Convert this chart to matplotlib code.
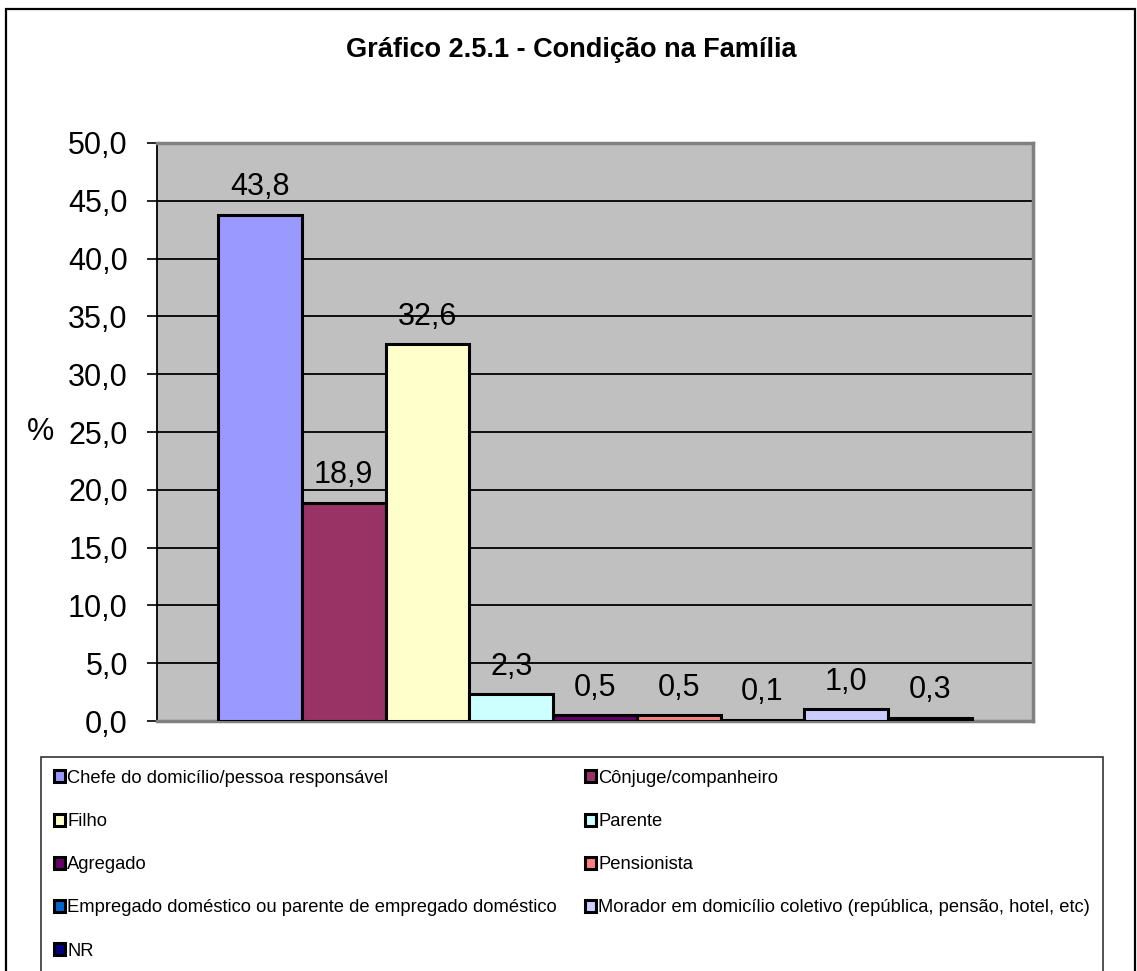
import matplotlib.pyplot as plt
from matplotlib.patches import Rectangle
import numpy as np

plt.rcParams['font.family'] = ['Liberation Sans', 'DejaVu Sans']

# categorias e valores (%)
categorias = ["Chefe do domicílio/pessoa responsável",
              "Cônjuge/companheiro",
              "Filho",
              "Parente",
              "Agregado",
              "Pensionista",
              "Empregado doméstico ou parente de empregado doméstico",
              "Morador em domicílio coletivo (república, pensão, hotel, etc)",
              "NR"]
valores = [43.8, 18.9, 32.6, 2.3, 0.5, 0.5, 0.1, 1.0, 0.3]
cores = ["#9999FF", "#993366", "#FFFFCC", "#CCFFFF", "#660066",
         "#FF8080", "#0066CC", "#CCCCFF", "#000080"]
yticks = [0, 5, 10, 15, 20, 25, 30, 35, 40, 45, 50]

W, H = 1137, 971
fig = plt.figure(figsize=(W / 100, H / 100), dpi=100)

# moldura externa
fig.patches.append(Rectangle((6 / W, -0.05), (1135 - 6) / W, 1.05 - 9 / H,
                             transform=fig.transFigure, fill=False,
                             edgecolor='black', linewidth=1.6))

ax = fig.add_axes([157 / W, 1 - 721 / H, (1033 - 157) / W, (721 - 143) / H])
ax.set_facecolor('#C0C0C0')

x = np.arange(len(valores))
barras = []
for i in range(len(valores)):
    b = ax.bar(x[i], valores[i], width=1.0, color=cores[i],
               edgecolor='black', linewidth=2.2, label=categorias[i], zorder=3)
    barras.append(b)
    ax.annotate(f"{valores[i]:.1f}".replace('.', ','), (x[i], valores[i]),
                xytext=(0, 14), textcoords='offset points',
                ha='center', va='baseline', fontsize=22, zorder=4)

ax.set_xlim(-0.5 - 61 / 83.8, 8.5 + 61 / 83.8)
ax.set_ylim(0, 50)
ax.set_yticks(yticks)
ax.set_yticklabels([f"{v:.1f}".replace('.', ',') for v in yticks], fontsize=22)
ax.set_xticks([])
ax.tick_params(axis='y', direction='out', length=7, width=1.2, pad=14)
ax.grid(axis='y', color='black', linewidth=1.3, zorder=1)
ax.set_axisbelow(True)

for s in ['top', 'right', 'bottom']:
    ax.spines[s].set_color('#808080')
    ax.spines[s].set_linewidth(2.5)
ax.spines['left'].set_color('black')
ax.spines['left'].set_linewidth(1.3)

ax.set_ylabel('%', rotation=0, fontsize=22, ha='center', va='center')
ax.yaxis.set_label_coords((41 - 157) / 876, 0.5)

fig.text(571 / W, 1 - 57 / H, "Gráfico 2.5.1 - Condição na Família",
         ha='center', va='baseline', fontsize=19.5, fontweight='bold')

# legenda em linhas (ordem linha a linha)
ordem = [0, 2, 4, 6, 8, 1, 3, 5, 7]
leg = fig.legend([barras[i] for i in ordem], [categorias[i] for i in ordem],
                 ncol=2, loc='upper left', mode='expand',
                 bbox_to_anchor=(41 / W, 0, (1103 - 41) / W, 1 - 757 / H),
                 fontsize=13.2, handlelength=0.62, handleheight=0.62,
                 handletextpad=0.12, labelspacing=1.43, borderpad=0.7,
                 borderaxespad=0, fancybox=False, frameon=True)
leg.get_frame().set_edgecolor('black')
leg.get_frame().set_linewidth(1.2)

fig.savefig('out.png', dpi=100)
